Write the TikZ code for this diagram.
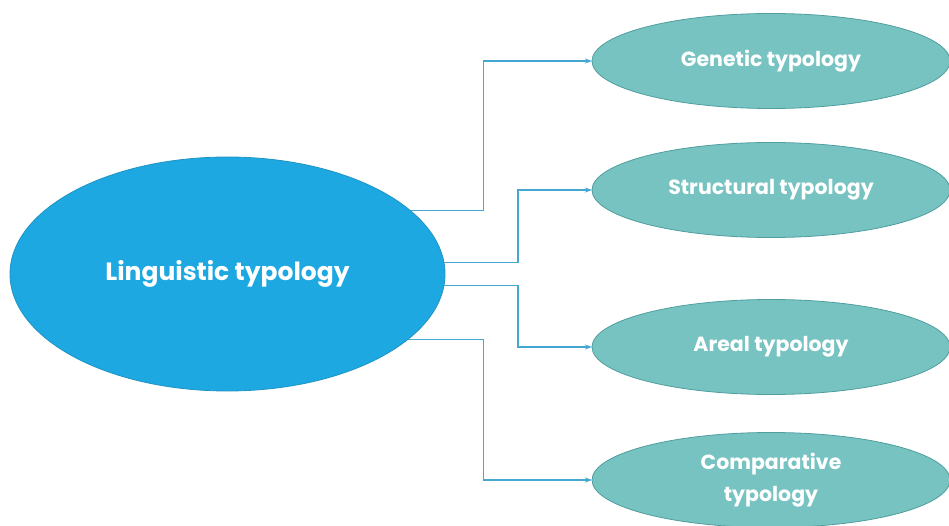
\documentclass[tikz,border=0pt]{standalone}
\usepackage{fontspec}
\setmainfont{Poppins}
\usetikzlibrary{shapes.geometric,arrows.meta}
\definecolor{mainblue}{HTML}{1DA8E1}
\definecolor{mainedge}{HTML}{1F93C4}
\definecolor{tealfill}{HTML}{76C3C2}
\definecolor{tealedge}{HTML}{509E9E}
\definecolor{linkblue}{HTML}{45A8D2}
\tikzset{
  root/.style={ellipse, fill=mainblue, draw=mainedge, line width=0.8pt,
    minimum width=435pt, minimum height=234pt, inner sep=0pt, outer sep=0pt,
    text=white, font=\bfseries\fontsize{25}{30}\selectfont},
  branch/.style={ellipse, fill=tealfill, draw=tealedge, line width=0.8pt,
    minimum width=358pt, minimum height=95pt, inner sep=0pt, outer sep=0pt,
    text=white, align=center, font=\bfseries\fontsize{20.5}{32}\selectfont},
  link/.style={draw=linkblue, line width=1.1pt,
    -{Stealth[length=7pt,width=5pt]}}
}
\begin{document}
\begin{tikzpicture}[x=1pt,y=-1pt]
  \useasboundingbox (0,0) rectangle (949,526);
  \node[root] (lt) at (227.5,274) {Linguistic typology};
  \node[branch] (gen) at (771,61) {Genetic typology};
  \node[branch] (str) at (771,190) {Structural typology};
  \node[branch] (are) at (771,347) {Areal typology};
  \node[branch] (com) at (771,480) {Comparative\\typology};
  \draw[link] (lt.19.4) -- ++(73,0) |- (gen.west);
  \draw[link] (lt.3.7) -- ++(74,0) |- (str.west);
  \draw[link] (lt.-3.4) -- ++(74,0) |- (are.west);
  \draw[link] (lt.-20.2) -- ++(76,0) |- (com.west);
\end{tikzpicture}
\end{document}
